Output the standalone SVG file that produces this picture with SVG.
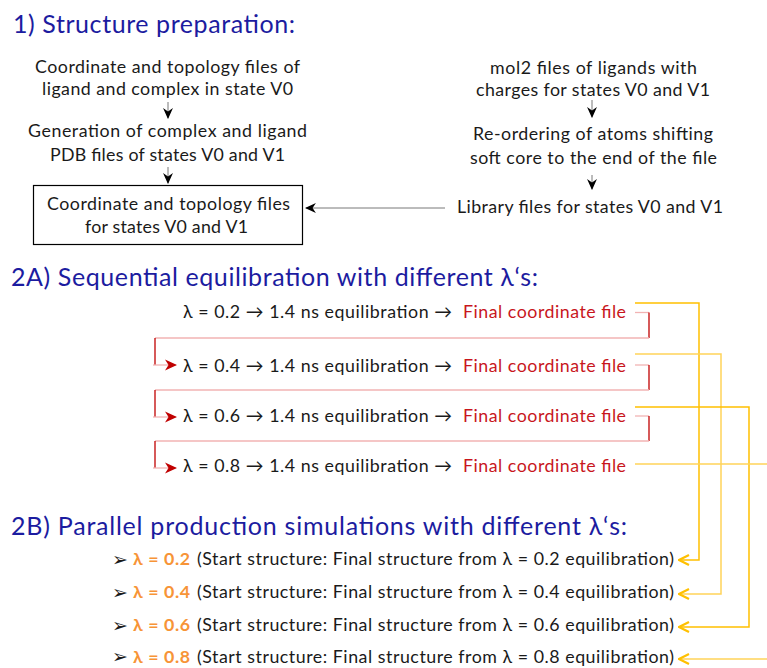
<svg xmlns="http://www.w3.org/2000/svg" width="767" height="668" viewBox="0 0 767 668">
<style>
  text { font-family: Lato, "Liberation Sans", sans-serif; }
  .h { font-size: 25px; fill: #1c1ca0; }
  .t { font-size: 17.8px; fill: #1a1a1a; }
  .bul { font-family: "DejaVu Sans", sans-serif; font-size: 19px; fill: #1a1a1a; }
  .red { fill: #c8161d; }
  .org { fill: #f79437; font-weight: bold; }
  .box { fill: #ffffff; stroke: #000000; stroke-width: 1.2; }
  .ln { fill: none; stroke: #555555; stroke-width: 0.8; }
  .pale { fill: none; stroke: #f2b3b3; stroke-width: 1.3; }
  .dark { fill: none; stroke: #c00000; stroke-width: 1.3; }
  .yel { fill: none; stroke: #ffc000; stroke-width: 1.5; }
  .yel2 { fill: none; stroke: #ffd35a; stroke-width: 1.5; }
</style>
<defs>
  <marker id="mBlk" viewBox="0 0 10 10" refX="9" refY="5" markerWidth="11" markerHeight="11" markerUnits="userSpaceOnUse" orient="auto">
    <path d="M0,0.5 L10,5 L0,9.5 L3,5 z" fill="#000000"/>
  </marker>
  <marker id="mRed" viewBox="0 0 12 12" refX="11" refY="6" markerWidth="12" markerHeight="12" markerUnits="userSpaceOnUse" orient="auto">
    <path d="M0,0.5 L12,6 L0,11.5 L3.5,6 z" fill="#c00000"/>
  </marker>
  <marker id="mYel" viewBox="0 0 12 12" refX="11" refY="6" markerWidth="12" markerHeight="12" markerUnits="userSpaceOnUse" orient="auto">
    <path d="M1,1 L11,6 L1,11" fill="none" stroke="#ffc000" stroke-width="2.2"/>
  </marker>
</defs>

<g id="titles">
  <text class="h" x="13" y="33" textLength="282">1) Structure preparation:</text>
  <text class="h" x="11" y="286" textLength="527">2A) Sequential equilibration with different λ‘s:</text>
  <text class="h" x="11" y="535" textLength="616">2B) Parallel production simulations with different λ‘s:</text>
</g>

<g id="node-coord-v0">
  <text class="t" x="35" y="73" textLength="265">Coordinate and topology files of</text>
  <text class="t" x="42" y="95" textLength="251">ligand and complex in state V0</text>
</g>
<g id="node-pdb">
  <text class="t" x="28" y="137" textLength="279">Generation of complex and ligand</text>
  <text class="t" x="50" y="161" textLength="235">PDB files of states V0 and V1</text>
</g>
<g id="node-box">
  <rect class="box" x="33.5" y="185.5" width="269" height="59"/>
  <text class="t" x="47" y="210" textLength="243">Coordinate and topology files</text>
  <text class="t" x="85" y="233" textLength="163">for states V0 and V1</text>
</g>
<g id="node-mol2">
  <text class="t" x="490" y="74" textLength="207">mol2 files of ligands with</text>
  <text class="t" x="476" y="96" textLength="234">charges for states V0 and V1</text>
</g>
<g id="node-reorder">
  <text class="t" x="473" y="140" textLength="240">Re-ordering of atoms shifting</text>
  <text class="t" x="470" y="164" textLength="247">soft core to the end of the file</text>
</g>
<g id="node-library">
  <text class="t" x="457" y="213" textLength="266">Library files for states V0 and V1</text>
</g>

<g id="node-eq02">
  <text class="t" x="183" y="318" textLength="269">λ = 0.2 → 1.4 ns equilibration →</text>
  <text class="t red" x="463" y="318" textLength="163">Final coordinate file</text>
</g>
<g id="node-eq04">
  <text class="t" x="183" y="372" textLength="269">λ = 0.4 → 1.4 ns equilibration →</text>
  <text class="t red" x="463" y="372" textLength="163">Final coordinate file</text>
</g>
<g id="node-eq06">
  <text class="t" x="183" y="422" textLength="269">λ = 0.6 → 1.4 ns equilibration →</text>
  <text class="t red" x="463" y="422" textLength="163">Final coordinate file</text>
</g>
<g id="node-eq08">
  <text class="t" x="183" y="472" textLength="269">λ = 0.8 → 1.4 ns equilibration →</text>
  <text class="t red" x="463" y="472" textLength="163">Final coordinate file</text>
</g>

<g id="node-prod02">
  <text class="bul" x="112" y="566">➢</text>
  <text class="t org" x="133" y="565" textLength="57">λ = 0.2</text>
  <text class="t" x="197" y="565" textLength="477">(Start structure: Final structure from λ = 0.2 equilibration)</text>
</g>
<g id="node-prod04">
  <text class="bul" x="112" y="599">➢</text>
  <text class="t org" x="133" y="598" textLength="57">λ = 0.4</text>
  <text class="t" x="197" y="598" textLength="477">(Start structure: Final structure from λ = 0.4 equilibration)</text>
</g>
<g id="node-prod06">
  <text class="bul" x="112" y="632">➢</text>
  <text class="t org" x="133" y="631" textLength="57">λ = 0.6</text>
  <text class="t" x="197" y="631" textLength="477">(Start structure: Final structure from λ = 0.6 equilibration)</text>
</g>
<g id="node-prod08">
  <text class="bul" x="112" y="663">➢</text>
  <text class="t org" x="133" y="663" textLength="57">λ = 0.8</text>
  <text class="t" x="197" y="663" textLength="477">(Start structure: Final structure from λ = 0.8 equilibration)</text>
</g>

<g id="connectors">
  <line class="ln" x1="168" y1="102" x2="168" y2="118" marker-end="url(#mBlk)"/>
  <line class="ln" x1="168" y1="167" x2="168" y2="183" marker-end="url(#mBlk)"/>
  <line class="ln" x1="592" y1="100" x2="592" y2="117" marker-end="url(#mBlk)"/>
  <line class="ln" x1="592" y1="175" x2="592" y2="189" marker-end="url(#mBlk)"/>
  <line class="ln" x1="445" y1="208" x2="306" y2="208" marker-end="url(#mBlk)"/>

  <path class="pale" d="M635,312.5 H649"/>
  <path class="dark" d="M649,312.5 V338"/>
  <path class="pale" d="M649,338 H155"/>
  <path class="dark" d="M155,338 V365"/>
  <line class="pale" x1="153" y1="365" x2="176" y2="365" stroke="#e88a8a" marker-end="url(#mRed)"/>

  <path class="pale" d="M635,365 H649"/>
  <path class="dark" d="M649,365 V390"/>
  <path class="pale" d="M649,390 H155"/>
  <path class="dark" d="M155,390 V417"/>
  <line class="pale" x1="153" y1="417" x2="176" y2="417" stroke="#e88a8a" marker-end="url(#mRed)"/>

  <path class="pale" d="M635,416 H649"/>
  <path class="dark" d="M649,416 V441"/>
  <path class="pale" d="M649,441 H155"/>
  <path class="dark" d="M155,441 V468"/>
  <line class="pale" x1="153" y1="468" x2="176" y2="468" stroke="#e88a8a" marker-end="url(#mRed)"/>

  <path class="yel" d="M635,303 H699 V560 H679" marker-end="url(#mYel)"/>
  <path class="yel2" d="M635,354 H721 V594 H679" marker-end="url(#mYel)"/>
  <path class="yel" d="M635,407 H749 V627 H679" marker-end="url(#mYel)"/>
  <path class="yel2" d="M635,464 H790 V659 H679" marker-end="url(#mYel)"/>
</g>
</svg>
